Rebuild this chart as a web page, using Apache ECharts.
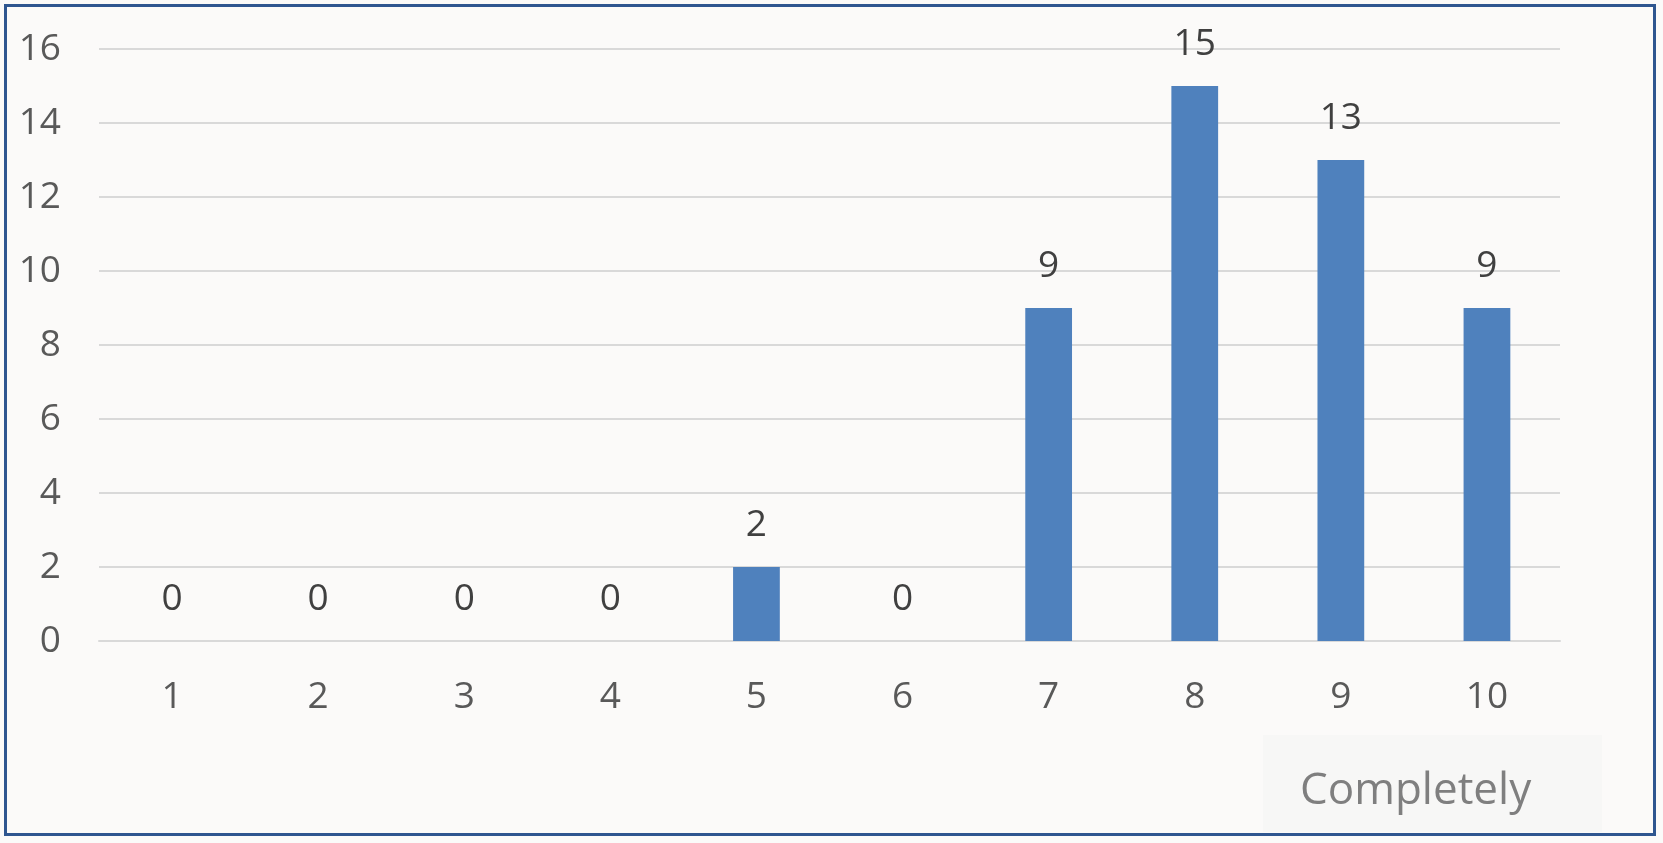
<!DOCTYPE html>
<html>
<head>
<meta charset="utf-8">
<script src="https://cdn.jsdelivr.net/npm/echarts@6/dist/echarts.min.js"></script>
<style>
html,body{margin:0;padding:0;background:#fbfaf9;}
#c{position:absolute;left:0;top:0;width:1663px;height:843px;}
#b{position:absolute;left:4px;top:4px;width:1646px;height:826px;border:3px solid #2f5690;pointer-events:none;}
</style>
</head>
<body>
<div id="c"></div>
<div id="b"></div>
<script>
const categories = ['1','2','3','4','5','6','7','8','9','10'];
const counts = [0,0,0,0,2,0,9,15,13,9];
const yTicks = [0,2,4,6,8,10,12,14,16];
const cornerNote = 'Completely';

const chart = echarts.init(document.getElementById('c'));
const FONT = '"Open Sans", sans-serif';
chart.setOption({
  backgroundColor: '#fbfaf9',
  animation: false,
  grid: {left: 99, right: 103, top: 49, bottom: 202, containLabel: false},
  xAxis: {
    type: 'category',
    data: categories,
    axisLine: {show: true, lineStyle: {color: '#d9d9d9', width: 2}},
    axisTick: {show: false},
    axisLabel: {color: '#595959', fontFamily: FONT, fontSize: 37, margin: 38}
  },
  yAxis: {
    type: 'value',
    min: yTicks[0], max: yTicks[yTicks.length-1], interval: 2,
    axisLine: {show: false},
    axisTick: {show: false},
    splitLine: {lineStyle: {color: '#d9d9d9', width: 2}},
    axisLabel: {color: '#595959', fontFamily: FONT, fontSize: 37, margin: 38}
  },
  series: [{
    type: 'bar',
    data: counts,
    barWidth: '32%',
    itemStyle: {color: '#4f81bd'},
    label: {show: true, position: 'top', distance: 23, color: '#404040', fontFamily: FONT, fontSize: 37}
  }],
  graphic: [{
    type: 'group', left: 1263, top: 735,
    children: [
      {type: 'rect', shape: {x: 0, y: 0, width: 339, height: 97}, style: {fill: '#f7f7f6'}},
      {type: 'text', x: 37, y: 78, style: {text: cornerNote, fill: '#7f7f7f', font: '44px "Open Sans", sans-serif', textVerticalAlign: 'bottom'}}
    ]
  }]
});
</script>
</body>
</html>
